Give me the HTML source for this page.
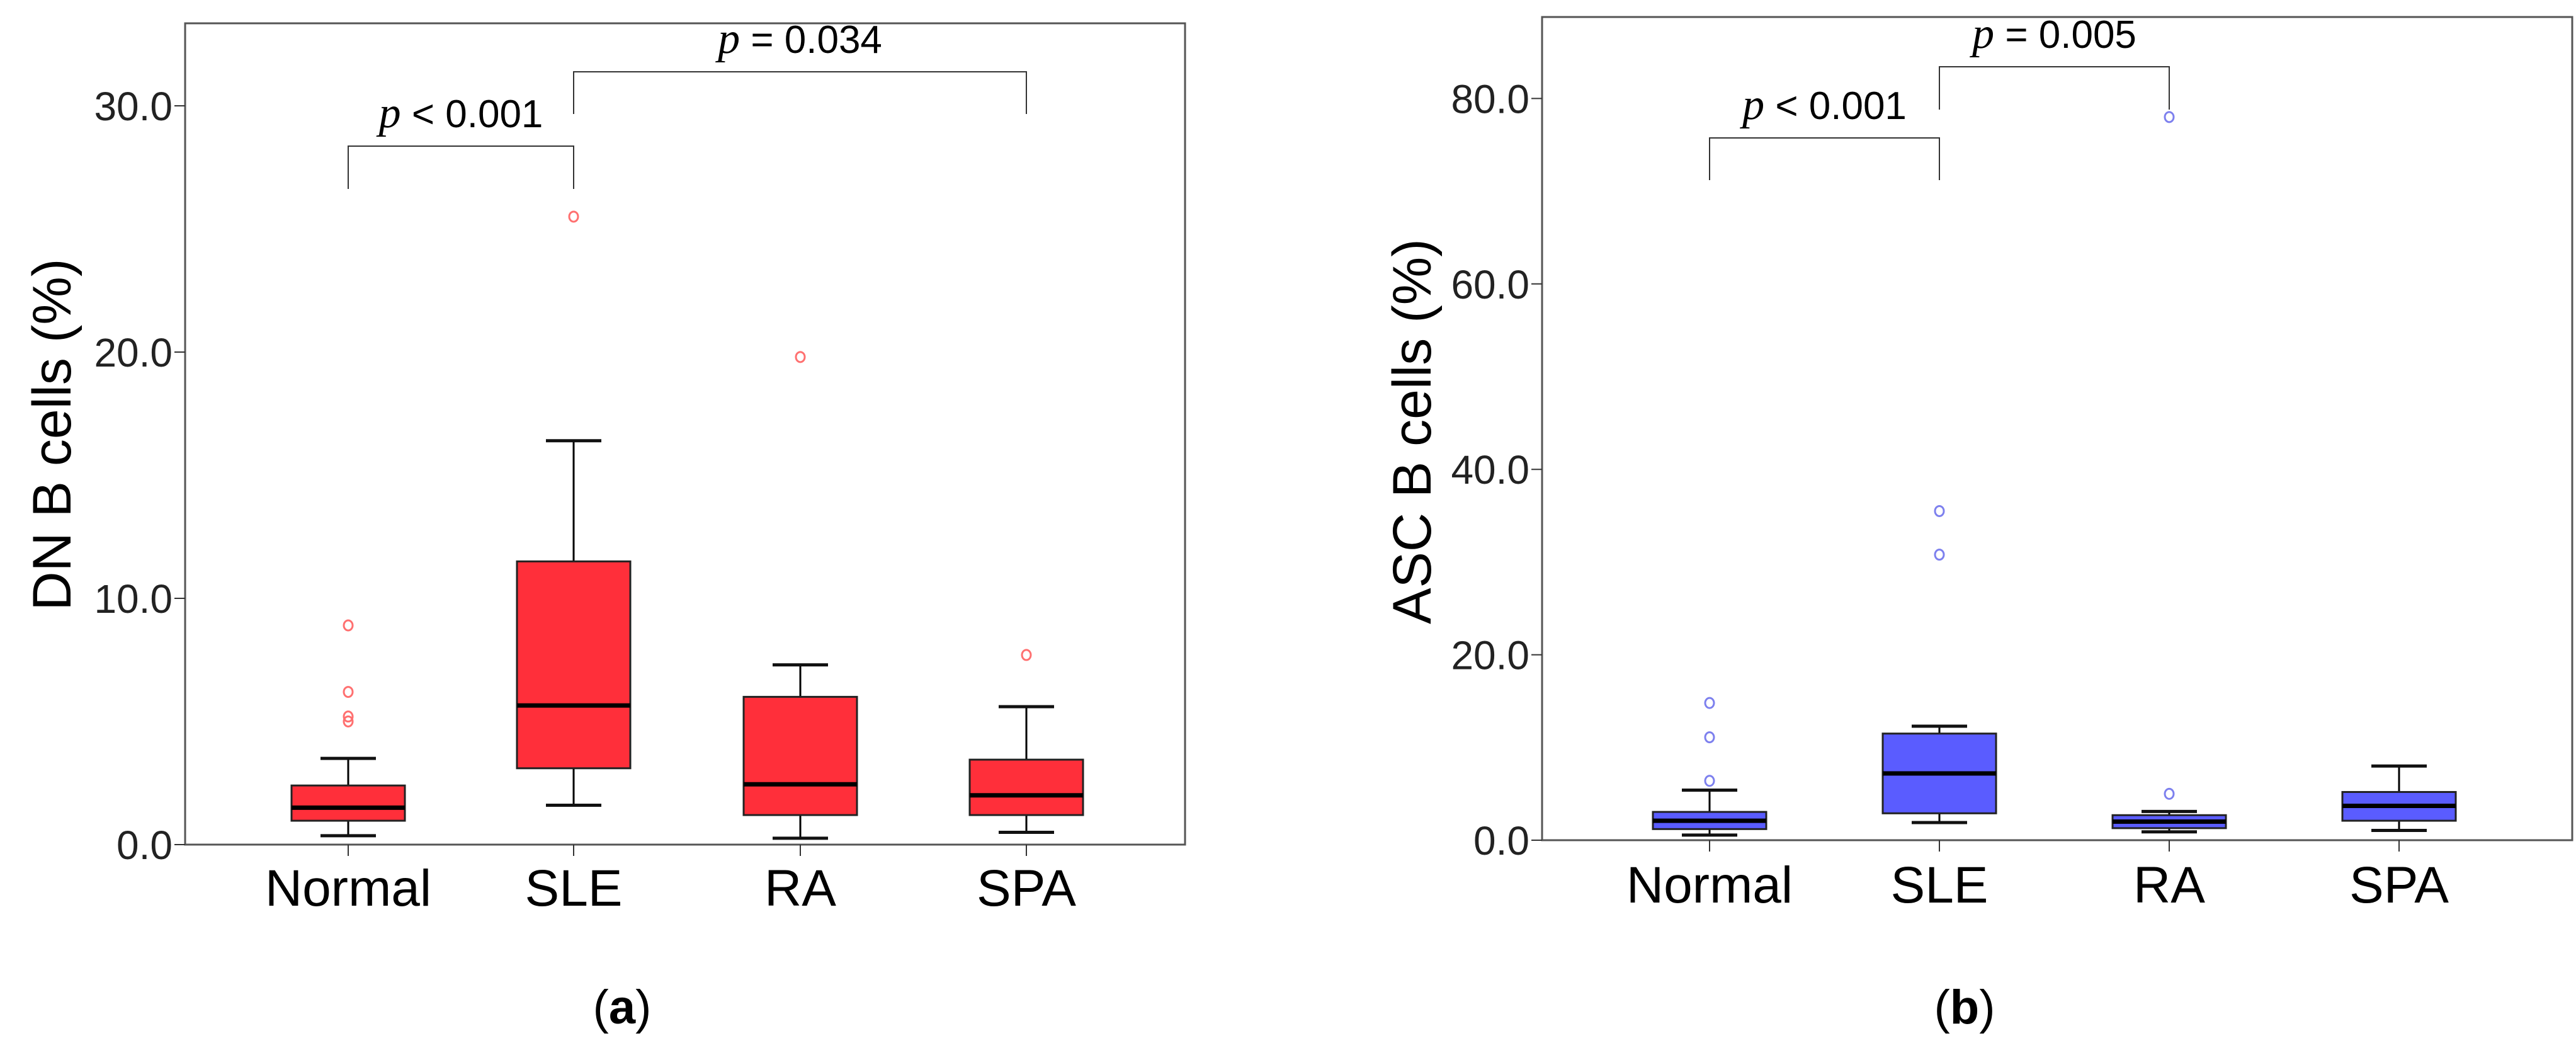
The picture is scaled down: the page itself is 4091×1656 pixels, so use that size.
<!DOCTYPE html>
<html><head><meta charset="utf-8"><style>
html,body{margin:0;padding:0;background:#fff;}
svg{display:block;}
text{font-family:"Liberation Sans",sans-serif;}
</style></head><body>
<svg id="chart" width="4091" height="1656" viewBox="0 0 4091 1656" xmlns="http://www.w3.org/2000/svg"></svg>
<script>
const categories = ["Normal","SLE","RA","SPA"];
// panel a: DN B cells
const aQ1 = [0.97, 3.1, 1.2, 1.2];
const aMed = [1.5, 5.65, 2.45, 2.0];
const aQ3 = [2.4, 11.5, 6.0, 3.45];
const aLo = [0.36, 1.6, 0.26, 0.5];
const aHi = [3.5, 16.4, 7.3, 5.6];
const aOutliers = [[8.9, 6.2, 5.2, 5.0], [25.5], [19.8], [7.7]];
const aTicks = [0, 10, 20, 30];
// panel b: ASC B cells
const bQ1 = [1.2, 2.9, 1.3, 2.1];
const bMed = [2.1, 7.2, 2.0, 3.7];
const bQ3 = [3.05, 11.5, 2.7, 5.2];
const bLo = [0.55, 1.9, 0.9, 1.05];
const bHi = [5.4, 12.3, 3.1, 8.0];
const bOutliers = [[14.8, 11.1, 6.4], [35.5, 30.8], [78.0, 5.0], []];
const bTicks = [0, 20, 40, 60, 80];

const NS = "http://www.w3.org/2000/svg";
const svg = document.getElementById("chart");
function mk(tag, attrs, parent, txt){
  const e = document.createElementNS(NS, tag);
  for (const k in attrs) e.setAttribute(k, attrs[k]);
  if (txt !== undefined) e.textContent = txt;
  (parent || svg).appendChild(e);
  return e;
}

function panel(cfg){
  const g = mk("g", {});
  
  
  const y = v => cfg.y0 - v * cfg.ppu;
  const x = i => cfg.xs[i];
  // frame
  const fr = mk("rect", {x: cfg.left, y: cfg.top, width: cfg.right - cfg.left, height: cfg.y0 - cfg.top, fill: "none", stroke: "#555", "stroke-width": 3}, g);
  
  
  // y ticks
  cfg.ticks.forEach(t => {
    mk("line", {x1: cfg.left - 17, x2: cfg.left, y1: y(t), y2: y(t), stroke: "#333", "stroke-width": 2}, g);
    const tl = mk("text", {x: cfg.left - 20, y: y(t) + 23, "text-anchor": "end", "font-size": 64, fill: "#222"}, g, t.toFixed(1));
    
    
  });
  // y title
  const yt = mk("text", {x: 0, y: 0, transform: `translate(${cfg.titleX},${cfg.titleY}) rotate(-90)`, "text-anchor": "middle", "font-size": 86, fill: "#000"}, g, cfg.title);
  
  
  // categories
  categories.forEach((c, i) => {
    mk("line", {x1: x(i), x2: x(i), y1: cfg.y0, y2: cfg.y0 + 18, stroke: "#333", "stroke-width": 2}, g);
    const cl = mk("text", {x: x(i), y: cfg.labelY, "text-anchor": "middle", "font-size": 82, fill: "#000"}, g, c);
    
    
    const bg = mk("g", {}, g);
    
    
    // whiskers
    mk("line", {x1: x(i), x2: x(i), y1: y(cfg.hi[i]), y2: y(cfg.q3[i]), stroke: "#000", "stroke-width": 3}, bg);
    mk("line", {x1: x(i), x2: x(i), y1: y(cfg.q1[i]), y2: y(cfg.lo[i]), stroke: "#000", "stroke-width": 3}, bg);
    mk("line", {x1: x(i) - 44, x2: x(i) + 44, y1: y(cfg.hi[i]), y2: y(cfg.hi[i]), stroke: "#111", "stroke-width": 5}, bg);
    mk("line", {x1: x(i) - 44, x2: x(i) + 44, y1: y(cfg.lo[i]), y2: y(cfg.lo[i]), stroke: "#111", "stroke-width": 5}, bg);
    mk("rect", {x: x(i) - 90, y: y(cfg.q3[i]), width: 180, height: y(cfg.q1[i]) - y(cfg.q3[i]), fill: cfg.fill, stroke: "#222", "stroke-width": 3}, bg);
    mk("line", {x1: x(i) - 90, x2: x(i) + 90, y1: y(cfg.med[i]), y2: y(cfg.med[i]), stroke: "#000", "stroke-width": 7}, bg);
    cfg.out[i].forEach(v => {
      const o = mk("ellipse", {cx: x(i), cy: y(v), rx: 7, ry: 8, fill: "none", stroke: cfg.outColor, "stroke-width": 3}, g);
      
      
    });
  });
  // brackets
  cfg.brackets.forEach(b => {
    const bk = mk("path", {d: `M${x(b.a)},${b.la} V${b.top} H${x(b.b)} V${b.lb}`, fill: "none", stroke: "#333", "stroke-width": 2}, g);
    
    
    const t = mk("text", {x: (x(b.a) + x(b.b)) / 2, y: b.top - 30, "text-anchor": "middle", "font-size": 62, fill: "#000"}, g);
    
    
    mk("tspan", {"font-family": "Liberation Serif, serif", "font-style": "italic", "font-size": 70}, t, "p");
    mk("tspan", {}, t, " " + b.label);
  });
  const cap = mk("text", {x: cfg.capX, y: 1625, "text-anchor": "middle", "font-size": 76, "font-family": "Liberation Serif, serif", fill: "#000"}, g);
  
  
  mk("tspan", {}, cap, "(");
  mk("tspan", {"font-weight": "bold"}, cap, cfg.cap);
  mk("tspan", {}, cap, ")");
}

panel({name: "panel-a-dn-b-cells", left: 294, right: 1882, top: 37, y0: 1341, ppu: 39.1,
  xs: [553, 911, 1271, 1630], ticks: aTicks, title: "DN B cells (%)", titleX: 112, titleY: 690,
  q1: aQ1, med: aMed, q3: aQ3, lo: aLo, hi: aHi, out: aOutliers, fill: "#ff2f3a", outColor: "#ff7070",
  labelY: 1438, capX: 988, cap: "a",
  brackets: [{a: 0, b: 1, top: 232, la: 300, lb: 300, label: "< 0.001"}, {a: 1, b: 3, top: 114, la: 181, lb: 181, label: "= 0.034"}]});
panel({name: "panel-b-asc-b-cells", left: 2449, right: 4085, top: 27, y0: 1334, ppu: 14.72,
  xs: [2715, 3080, 3445, 3810], ticks: bTicks, title: "ASC B cells (%)", titleX: 2272, titleY: 685,
  q1: bQ1, med: bMed, q3: bQ3, lo: bLo, hi: bHi, out: bOutliers, fill: "#5a5cff", outColor: "#7d80ee",
  labelY: 1433, capX: 3120, cap: "b",
  brackets: [{a: 0, b: 1, top: 219, la: 286, lb: 286, label: "< 0.001"}, {a: 1, b: 2, top: 106, la: 174, lb: 174, label: "= 0.005"}]});
</script>
</body></html>
